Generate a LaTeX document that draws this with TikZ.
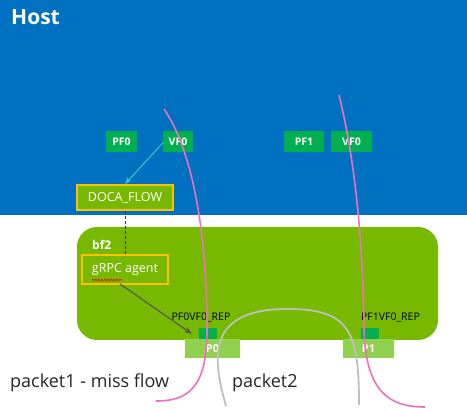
\documentclass[tikz,border=0pt]{standalone}
\usepackage{fontspec}
\setmainfont{Open Sans}
\usetikzlibrary{arrows.meta,decorations.pathmorphing}
\definecolor{hostblue}{HTML}{0070C0}
\definecolor{nvgreen}{HTML}{76B900}
\definecolor{pfgreen}{HTML}{00B050}
\definecolor{plight}{HTML}{92D050}
\definecolor{orng}{HTML}{FFC000}
\definecolor{pinkc}{HTML}{F06EC0}
\definecolor{grayc}{HTML}{BFBFBF}
\definecolor{cyanc}{HTML}{33CCCC}
\definecolor{darkt}{HTML}{262626}
\definecolor{dashc}{HTML}{403152}
\tikzset{
  pfbox/.style={fill=pfgreen, text=white, font=\fontsize{10.5}{12}\selectfont\bfseries, inner sep=0pt, minimum height=21pt},
  swbox/.style={fill=nvgreen, draw=orng, line width=2pt, text=white, font=\fontsize{12.5}{14}\selectfont, inner sep=0pt},
  portbox/.style={fill=plight, text=white, font=\fontsize{11}{13}\selectfont\bfseries, inner sep=0pt, minimum height=19pt},
  repsq/.style={fill=pfgreen, inner sep=0pt, minimum width=18pt, minimum height=11pt},
  replabel/.style={text=black, font=\fontsize{10.5}{12}\selectfont, inner sep=0pt},
  pkt/.style={pinkc, line width=1.6pt},
  pkt2/.style={grayc, line width=1.8pt},
  bigtext/.style={text=darkt, font=\fontsize{18}{20}\selectfont, inner sep=0pt, anchor=base west}
}
\begin{document}
\begin{tikzpicture}[x=1pt,y=-1pt]
\useasboundingbox (0,0) rectangle (467,411);
% host area
\fill[hostblue] (0,0) rectangle (467,215);
\node[text=white, font=\fontsize{21}{24}\selectfont\bfseries, inner sep=0pt, anchor=base west] (host) at (11,25) {Host};
% bf2 area
\fill[nvgreen, rounded corners=20pt] (77,227) rectangle (438,340);
\node[text=white, font=\fontsize{12}{14}\selectfont\bfseries, inner sep=0pt, anchor=base west] (bf2) at (92,250) {bf2};
% host functions
\node[pfbox, minimum width=31pt] (pf0) at (121.5,141.5) {PF0};
\node[pfbox, minimum width=30pt] (vf0a) at (178,141.5) {VF0};
\node[pfbox, minimum width=40pt] (pf1) at (304,141.5) {PF1};
\node[pfbox, minimum width=41pt] (vf0b) at (351.5,141.5) {VF0};
% software boxes
\node[swbox, minimum width=96pt, minimum height=25pt] (doca) at (125,197.5) {DOCA\_FLOW};
\node[swbox, minimum width=86pt, minimum height=29pt] (grpc) at (125,269.5) {gRPC agent};
\draw[red, line width=0.6pt, decorate, decoration={snake, amplitude=0.8pt, segment length=3pt}] (92,280) -- (122,280);
% ports
\node[portbox, minimum width=55pt] (p0) at (212.5,348.5) {P0};
\node[portbox, minimum width=51pt] (p1) at (368.5,348.5) {P1};
\node[repsq] (rep0) at (208,333.5) {};
\node[repsq] (rep1) at (370,333.5) {};
\node[replabel] (rep0l) at (201,317.5) {PF0VF0\_REP};
\node[replabel] (rep1l) at (390.5,317.5) {PF1VF0\_REP};
% connectors
\coordinate (gtip) at (192,334);
\draw[cyanc, line width=1pt, -{Stealth[length=7pt,width=5pt]}] (vf0a.west |- 0,143) -- (doca.north);
\draw[dashc, line width=1pt, dashed, dash pattern=on 3pt off 2pt] (doca.south) -- (grpc.north);
\draw[black!65, line width=1.2pt, -{Stealth[length=8pt,width=6pt]}] (120,284) -- (gtip);
% packet paths
\coordinate (a1) at (164,109);
\coordinate (a2) at (207,330);
\coordinate (a3) at (156,401);
\draw[pkt] (a1) .. controls (192,150) and (207,230) .. (a2) .. controls (207,388) and (188,401) .. (a3);
\coordinate (b1) at (339,95);
\coordinate (b2) at (364,330);
\coordinate (b3) at (425,407);
\draw[pkt] (b1) .. controls (355,160) and (363,240) .. (b2) .. controls (366,395) and (392,407) .. (b3);
\coordinate (c1) at (226,406);
\coordinate (c2) at (283,309);
\coordinate (c3) at (359,405);
\draw[pkt2] (c1) .. controls (213,360) and (205,311) .. (c2) .. controls (350,308) and (359,330) .. (c3);
% labels
\node[bigtext] (lab1) at (10,388) {packet1 - miss flow};
\node[bigtext] (lab2) at (232,388) {packet2};
\end{tikzpicture}
\end{document}
